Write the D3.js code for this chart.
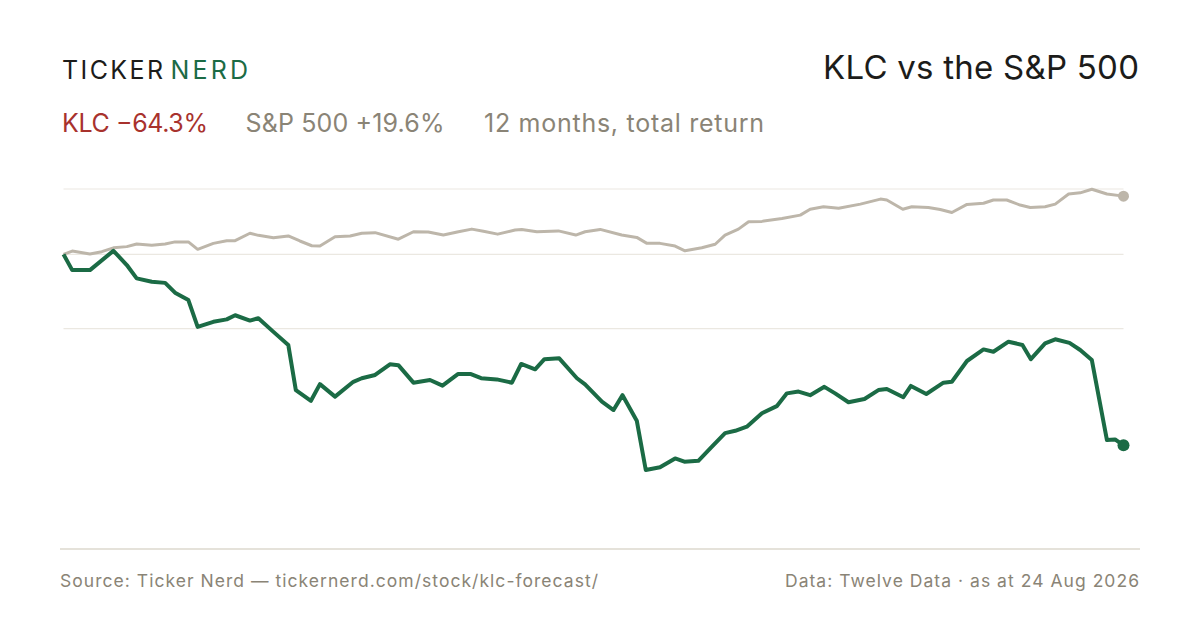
<!DOCTYPE html>
<html>
<head>
<meta charset="utf-8">
<script src="https://cdn.jsdelivr.net/npm/d3@7"></script>
<style>
  html, body { margin: 0; padding: 0; background: #ffffff; }
  svg { display: block; font-family: Inter, "Noto Sans", sans-serif; }
</style>
</head>
<body>
<svg id="chart" width="1200" height="630"></svg>
<script>
// ---- data (days since 24 Aug 2025, total return in %) ----
const klcDays = [0, 3.0, 9.1, 17.2, 21.8, 25.2, 30.4, 35.0, 38.4, 43.0, 46.2, 51.6, 56.2, 59.1, 64.2, 67.1, 72.3, 77.4, 80.0, 85.2, 88.3, 93.5, 99.8, 102.7, 107.3, 112.4, 115.3, 120.5, 126.2, 130.5, 135.8, 140.3, 143.8, 149.2, 154.4, 157.6, 162.4, 165.6, 170.7, 176.8, 179.6, 185.4, 189.4, 192.5, 197.4, 200.5, 205.4, 210.6, 213.8, 218.6, 223.2, 227.8, 231.3, 235.3, 240.5, 245.6, 249.1, 253.1, 257.1, 262.0, 265.7, 270.3, 275.8, 280.6, 283.5, 289.2, 291.8, 297.1, 303.0, 305.9, 311.1, 316.8, 320.2, 325.4, 330.2, 333.1, 338.0, 341.5, 346.4, 350.1, 354.1, 359.3, 362.1, 365];
const klcReturn = [0, -5.3, -5.3, 1.2, -3.6, -8.1, -9.2, -9.6, -12.9, -15.4, -24.4, -22.7, -21.9, -20.5, -22.3, -21.5, -26.1, -30.5, -45.7, -49.3, -43.7, -47.9, -42.9, -41.7, -40.6, -37.0, -37.3, -43.2, -42.3, -44.2, -40.3, -40.3, -41.7, -42.1, -43.2, -36.9, -38.7, -35.3, -35.0, -41.7, -43.8, -49.6, -52.4, -47.4, -56.0, -72.6, -71.7, -68.7, -69.8, -69.5, -64.8, -60.2, -59.4, -58.0, -53.5, -51.1, -46.8, -46.2, -47.4, -44.6, -46.8, -49.8, -48.7, -45.7, -45.3, -48.1, -44.3, -47.0, -43.2, -42.9, -35.9, -32.0, -32.8, -29.4, -30.5, -35.3, -30.0, -28.6, -29.8, -32.2, -35.6, -62.5, -62.3, -64.3];

const spxDays = [0, 3.0, 9.1, 13.2, 17.2, 21.8, 25.2, 30.4, 35.0, 38.4, 43.0, 46.2, 51.6, 56.2, 59.1, 64.2, 67.1, 72.3, 77.4, 81.4, 85.5, 88.3, 93.5, 98.7, 102.7, 107.3, 115.3, 120.5, 125.6, 130.8, 136.0, 140.6, 144.6, 149.5, 155.5, 157.8, 163.0, 170.4, 176.4, 179.6, 184.8, 192.2, 197.4, 200.9, 205.4, 210.6, 214.0, 219.8, 224.4, 227.8, 232.4, 235.9, 240.5, 247.4, 253.7, 257.1, 261.7, 266.9, 274.4, 281.3, 283.5, 289.0, 292.1, 297.8, 301.9, 305.9, 311.1, 316.8, 320.2, 324.8, 329.4, 332.9, 338.0, 341.5, 346.1, 350.1, 354.1, 359.3, 365];
const spxReturn = [0, 1.1, 0.1, 0.9, 2.2, 2.6, 3.5, 3.1, 3.5, 4.2, 4.2, 1.7, 3.7, 4.6, 4.6, 7.1, 6.4, 5.6, 6.2, 4.5, 2.9, 2.8, 5.9, 6.2, 7.1, 7.3, 5.1, 7.6, 7.5, 6.5, 7.6, 8.5, 7.8, 6.8, 8.2, 8.4, 7.6, 7.9, 6.5, 7.6, 8.4, 6.5, 5.7, 3.7, 3.7, 2.8, 1.2, 2.2, 3.4, 6.5, 8.5, 11.0, 11.1, 12.1, 13.2, 15.2, 16.0, 15.5, 16.9, 18.6, 18.3, 15.2, 16.0, 15.8, 15.1, 14.1, 16.8, 17.2, 18.3, 18.3, 16.6, 15.8, 16.0, 16.9, 20.3, 20.7, 21.9, 20.3, 19.6];

const gridValues = [22, 0, -25];
const dayDomain = [0, 365];
const returnDomain = [-100, 22];

const brand = ["TICKER", "NERD"];
const title = "KLC vs the S&P 500";
const subtitleParts = ["KLC \u221264.3%", "S&P 500 +19.6%", "12 months, total return"];
const sourceText = "Source: Ticker Nerd \u2014 tickernerd.com/stock/klc-forecast/";
const dataText = "Data: Twelve Data \u00b7 as at 24 Aug 2026";

// ---- styles ----
const GREEN = "#1b6b45", GREY_LINE = "#bdb6aa", RED = "#a8322d", MUTED = "#8a8476", INK = "#1c1c1a";

const svg = d3.select("#chart");
const x = d3.scaleLinear().domain(dayDomain).range([63.5, 1123.5]);
const y = d3.scaleLinear().domain(returnDomain).range([551.4, 189.0]);

// header
const brandX = [62, 170.5], brandW = [101, 77.5], brandC = [INK, GREEN];
svg.selectAll("text.brand").data(brand).join("text").attr("class", "brand")
  .attr("x", (d, i) => brandX[i]).attr("y", 79).attr("font-size", 25)
  .attr("textLength", (d, i) => brandW[i]).attr("lengthAdjust", "spacing")
  .attr("fill", (d, i) => brandC[i]).text(d => d);

svg.append("text").attr("x", 1139).attr("y", 79).attr("text-anchor", "end")
  .attr("font-size", 33).attr("textLength", 316).attr("lengthAdjust", "spacing")
  .attr("fill", INK).text(title);

const subX = [62, 245.5, 484], subW = [146, 199, 280];
const subC = [RED, MUTED, MUTED];
svg.selectAll("text.sub").data(subtitleParts).join("text").attr("class", "sub")
  .attr("x", (d, i) => subX[i]).attr("y", 132).attr("font-size", 25)
  .attr("textLength", (d, i) => subW[i]).attr("lengthAdjust", "spacing")
  .attr("fill", (d, i) => subC[i]).text(d => d);

// grid
svg.append("g").selectAll("line").data(gridValues).join("line")
  .attr("x1", 63.5).attr("x2", 1123.5)
  .attr("y1", d => y(d)).attr("y2", d => y(d))
  .attr("stroke", "#ebe8e1").attr("stroke-width", 1.2);

// lines
const line = d3.line().x(d => x(d[0])).y(d => y(d[1]));
const spx = d3.zip(spxDays, spxReturn);
const klc = d3.zip(klcDays, klcReturn);

svg.append("path").datum(spx).attr("d", line).attr("fill", "none")
  .attr("stroke", GREY_LINE).attr("stroke-width", 3).attr("stroke-linejoin", "round");
svg.append("path").datum(klc).attr("d", line).attr("fill", "none")
  .attr("stroke", GREEN).attr("stroke-width", 4).attr("stroke-linejoin", "round");

const lastS = spx[spx.length - 1], lastK = klc[klc.length - 1];
svg.append("circle").attr("cx", x(lastS[0])).attr("cy", y(lastS[1])).attr("r", 5.5).attr("fill", GREY_LINE);
svg.append("circle").attr("cx", x(lastK[0])).attr("cy", y(lastK[1])).attr("r", 6).attr("fill", GREEN);

// footer
svg.append("line").attr("x1", 60).attr("x2", 1140).attr("y1", 549).attr("y2", 549)
  .attr("stroke", "#dcd8ce").attr("stroke-width", 1.5);
svg.append("text").attr("x", 60).attr("y", 587).attr("font-size", 17.5)
  .attr("textLength", 538).attr("lengthAdjust", "spacing").attr("fill", MUTED).text(sourceText);
svg.append("text").attr("x", 1139).attr("y", 587).attr("text-anchor", "end")
  .attr("font-size", 17.5).attr("textLength", 354).attr("lengthAdjust", "spacing")
  .attr("fill", MUTED).text(dataText);
</script>
</body>
</html>
